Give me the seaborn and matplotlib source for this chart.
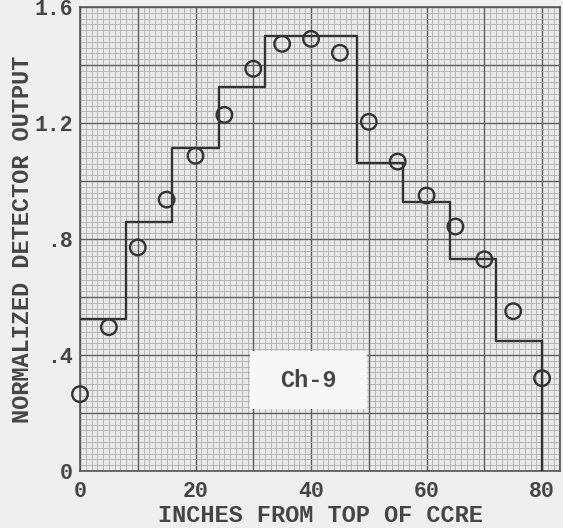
import matplotlib
matplotlib.use("Agg")
import matplotlib.pyplot as plt
from matplotlib.ticker import MultipleLocator
import numpy as np
import pandas as pd
import seaborn as sns

# ---- data ----
positions = [0, 5, 10, 15, 20, 25, 30, 35, 40, 45, 50, 55, 60, 65, 70, 75, 80]
measured = [0.265, 0.496, 0.771, 0.936, 1.087, 1.228, 1.387, 1.473, 1.490,
            1.442, 1.204, 1.067, 0.950, 0.843, 0.730, 0.551, 0.320]
step_edges = [0, 8, 16, 24, 32, 40, 48, 56, 64, 72, 80]
step_levels = [0.523, 0.860, 1.115, 1.325, 1.500, 1.500, 1.063, 0.929, 0.730, 0.447, 0.0]
x_ticks = [0, 20, 40, 60, 80]
y_ticks = [0, 0.4, 0.8, 1.2, 1.6]
y_ticklabels = ["0", ".4", ".8", "1.2", "1.6"]
x_ticklabels = ["0", "20", "40", "60", "80"]

sns.set_style("white")
plt.rcParams["font.family"] = ["Liberation Mono", "DejaVu Sans Mono"]
plt.rcParams["font.weight"] = "bold"
plt.rcParams["axes.labelweight"] = "bold"

ink = "#454545"
fig = plt.figure(figsize=(5.63, 5.28), dpi=100, facecolor="#efefef")
ax = fig.add_axes([80 / 563, (528 - 471) / 528, (560 - 80) / 563, (471 - 7) / 528])
ax.set_facecolor("#e9e9e9")

steps = pd.DataFrame({"x": step_edges, "y": step_levels})
pts = pd.DataFrame({"x": positions, "y": measured})

sns.lineplot(data=steps, x="x", y="y", ax=ax, drawstyle="steps-post",
             color="#333333", linewidth=1.7, sort=False, estimator=None, zorder=4)
sns.scatterplot(data=pts, x="x", y="y", ax=ax, s=125, facecolor="none",
                edgecolor="#333333", linewidth=1.7, zorder=5, clip_on=False)

ax.set_xlim(0, 83.1)
ax.set_ylim(0, 1.6)

# graph paper grid
ax.xaxis.set_major_locator(MultipleLocator(10))
ax.yaxis.set_major_locator(MultipleLocator(0.2))
ax.xaxis.set_minor_locator(MultipleLocator(1))
ax.yaxis.set_minor_locator(MultipleLocator(0.02))
ax.grid(which="minor", color="#b0b0b0", linewidth=0.6)
ax.grid(which="major", color="#5e5e5e", linewidth=1.0)
ax.set_axisbelow(True)
ax.tick_params(which="both", length=0)

ax.set_xticks(x_ticks, minor=False)
ax.set_xticklabels(x_ticklabels)
ax.set_yticks(y_ticks, minor=False)
ax.set_yticklabels(y_ticklabels)
for xv in np.arange(10, 83, 10):
    if xv not in x_ticks:
        ax.axvline(xv, color="#5e5e5e", linewidth=1.0, zorder=1)
for yv in np.arange(0.2, 1.6, 0.4):
    ax.axhline(yv, color="#5e5e5e", linewidth=1.0, zorder=1)

ax.tick_params(axis="x", labelsize=15.5, colors=ink, pad=7)
ax.tick_params(axis="y", labelsize=15.5, colors=ink, pad=5)

ax.set_xlabel("INCHES FROM TOP OF CCRE", fontsize=17, color=ink, labelpad=2)
ax.set_ylabel("NORMALIZED DETECTOR OUTPUT", fontsize=17, color=ink, labelpad=0)

for s in ax.spines.values():
    s.set_color("#555555")
    s.set_linewidth(1.2)

# label box
ax.add_patch(plt.Rectangle((29.4, 0.213), 20.3, 0.2, facecolor="#f7f7f7",
                           edgecolor="none", zorder=3))
ax.text(39.5, 0.313, "Ch-9", fontsize=17, color=ink, ha="center", va="center", zorder=6)

fig.savefig("out.png", dpi=100, facecolor=fig.get_facecolor())
